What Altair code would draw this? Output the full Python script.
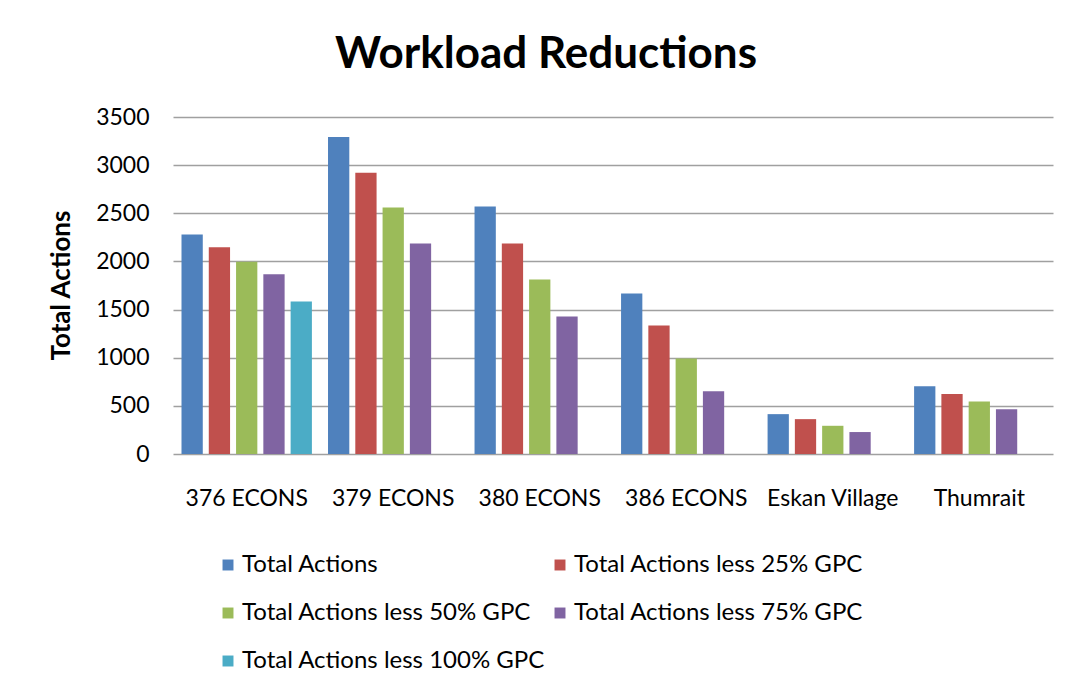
import altair as alt
import pandas as pd

categories = ["376 ECONS", "379 ECONS", "380 ECONS", "386 ECONS", "Eskan Village", "Thumrait"]
series = [
    "Total Actions",
    "Total Actions less 25% GPC",
    "Total Actions less 50% GPC",
    "Total Actions less 75% GPC",
    "Total Actions less 100% GPC",
]
colors = ["#4F81BD", "#C0504D", "#9BBB59", "#8064A2", "#4BACC6"]

total_actions = [2280, 3292, 2571, 1667, 414, 703]
less_25 = [2148, 2921, 2186, 1334, 362, 624]
less_50 = [1996, 2561, 1812, 991, 293, 545]
less_75 = [1868, 2186, 1428, 651, 228, 465]
less_100 = [1583, None, None, None, None, None]

values_by_series = [total_actions, less_25, less_50, less_75, less_100]

rows = []
for s, vals in zip(series, values_by_series):
    for c, v in zip(categories, vals):
        if v is not None:
            rows.append({"Site": c, "Series": s, "Value": v})
df = pd.DataFrame(rows)

# legend is filled column by column in Vega; reorder so it reads row by row
legend_order = [series[0], series[2], series[4], series[1], series[3]]
legend_colors = [colors[series.index(s)] for s in legend_order]

FONT = "Lato"

chart = (
    alt.Chart(df)
    .mark_bar()
    .encode(
        x=alt.X(
            "Site:N",
            sort=categories,
            title=None,
            scale=alt.Scale(paddingInner=0.11, paddingOuter=0.058),
            axis=alt.Axis(labelAngle=0, ticks=False, domain=False, labelPadding=33,
                          labelFontSize=23, labelColor="#000000", labelFont=FONT),
        ),
        xOffset=alt.XOffset("Series:N", sort=series,
                            scale=alt.Scale(domain=series, paddingInner=0.22, paddingOuter=0)),
        y=alt.Y(
            "Value:Q",
            title="Total Actions",
            scale=alt.Scale(domain=[0, 3500], nice=False),
            axis=alt.Axis(values=[0, 500, 1000, 1500, 2000, 2500, 3000, 3500], format="d",
                          ticks=False, domain=False, labelPadding=24,
                          labelFontSize=23, labelColor="#000000", labelFont=FONT,
                          gridColor="#a0a0a0", gridWidth=1.5,
                          titleFont=FONT, titleFontSize=26, titleFontWeight="bold",
                          titleColor="#000000", titleAngle=270, titleX=-112, titleY=168,
                          titleAlign="center", titleBaseline="middle"),
        ),
        color=alt.Color(
            "Series:N",
            scale=alt.Scale(domain=legend_order, range=legend_colors),
            legend=alt.Legend(
                title=None, orient="none", legendX=43, legendY=436, columns=2,
                symbolType="square", symbolSize=120, symbolStrokeWidth=0,
                labelFontSize=24, labelFont=FONT, labelColor="#000000",
                labelOffset=2, rowPadding=24, columnPadding=2, padding=0,
                labelLimit=400,
            ),
        ),
    )
    .properties(
        width=880,
        height=337,
        padding={"left": 165, "top": 109, "right": 12, "bottom": 230},
        autosize=alt.AutoSizeParams(type="none"),
        title=alt.TitleParams("Workload Reductions", font=FONT, fontSize=44, fontWeight="bold",
                              color="#000000", anchor="middle", dx=-67, offset=-6,
                              baseline="alphabetic"),
    )
    .configure_view(stroke=None)
)

chart.save("out.html", embed_options={"renderer": "svg", "actions": False})
